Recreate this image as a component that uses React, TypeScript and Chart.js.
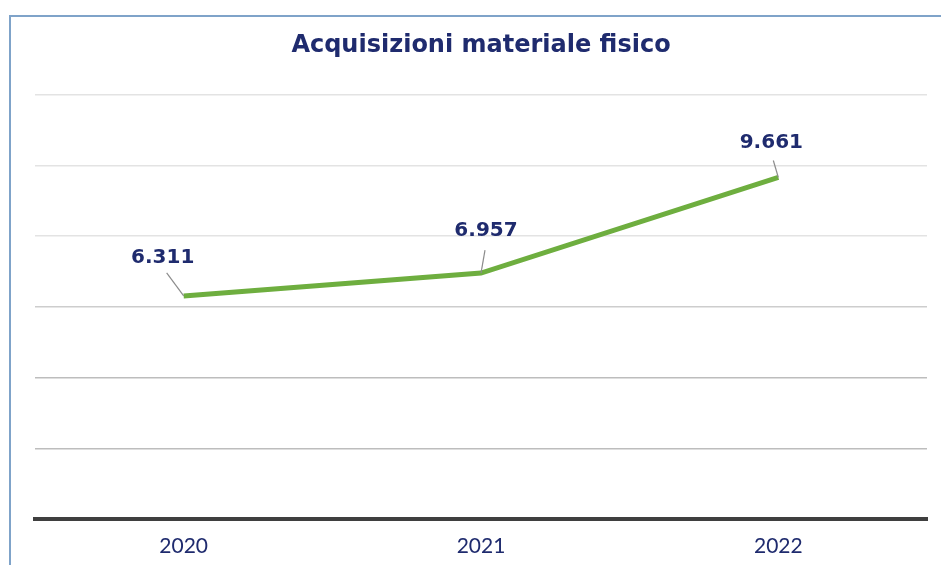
import React, { useEffect, useRef } from "react";
import { Chart, registerables } from "chart.js";

Chart.register(...registerables);

const TITLE = "Acquisizioni materiale fisico";
const categories = ["2020", "2021", "2022"];
const values = [6311, 6957, 9661];
const valueLabels = ["6.311", "6.957", "9.661"];
// label offsets relative to point: [dx, dy] for text centre
const labelOffsets = [
  [-21, -38],
  [5, -42],
  [-7, -35],
];
const leaderEnds = [
  [-17, -23],
  [4, -23],
  [-5, -17],
];

const NAVY = "#1f2b6e";

const labelPlugin = {
  id: "leaderLabels",
  afterDatasetsDraw(chart: any) {
    const ctx = chart.ctx;
    const meta = chart.getDatasetMeta(0);
    meta.data.forEach((pt: any, i: number) => {
      const x = pt.x;
      const y = pt.y;
      ctx.save();
      ctx.strokeStyle = "#8c8c8c";
      ctx.lineWidth = 1.2;
      ctx.beginPath();
      ctx.moveTo(x, y);
      ctx.lineTo(x + leaderEnds[i][0], y + leaderEnds[i][1]);
      ctx.stroke();
      ctx.fillStyle = NAVY;
      ctx.font = "bold 20px 'DejaVu Sans'";
      ctx.textAlign = "center";
      ctx.textBaseline = "middle";
      ctx.fillText(valueLabels[i], x + labelOffsets[i][0], y + labelOffsets[i][1]);
      ctx.restore();
    });
  },
};

export default function App() {
  const ref = useRef<HTMLCanvasElement>(null);
  useEffect(() => {
    if (!ref.current) return;
    const chart = new Chart(ref.current, {
      type: "line",
      data: {
        labels: categories,
        datasets: [
          {
            data: values,
            borderColor: "#6eae3f",
            borderWidth: 5,
            pointRadius: 0,
            tension: 0,
            fill: false,
          },
        ],
      },
      options: {
        animation: false,
        responsive: false,
        layout: { padding: { left: 35, right: 14, bottom: 4, top: 0 } },
        plugins: {
          legend: { display: false },
          tooltip: { enabled: false },
          title: {
            display: true,
            text: TITLE,
            color: NAVY,
            font: { family: "'DejaVu Sans'", size: 24, weight: "bold" },
            padding: { top: 31, bottom: 35 },
          },
        },
        scales: {
          x: {
            offset: true,
            grid: { display: false, drawTicks: false },
            border: { color: "#3f3f3f", width: 4 },
            ticks: {
              color: NAVY,
              font: { family: "Lato", size: 21 },
              padding: 15,
            },
            afterFit: (scale: any) => {
              scale.height = 42;
            },
          },
          y: {
            min: 0,
            max: 12000,
            ticks: { display: false, stepSize: 2000 },
            border: { display: false },
            grid: {
              drawTicks: false,
              color: (c: any) => {
                const v = c.tick ? c.tick.value : 0;
                if (v >= 8000) return "#e3e3e3";
                if (v >= 6000) return "#cdcdcd";
                return "#bdbdbd";
              },
              lineWidth: 1.5,
            },
          },
        },
      },
      plugins: [labelPlugin],
    });
    return () => chart.destroy();
  }, []);
  return (
    <div style={{ position: "fixed", left: 0, top: 0, width: 941, height: 565, background: "#fff" }}>
      <canvas ref={ref} width={941} height={565} style={{ position: "absolute", left: 0, top: 0 }} />
      <div
        style={{
          position: "absolute",
          left: 9,
          top: 15,
          width: 940,
          height: 560,
          borderLeft: "2px solid #7fa3c9",
          borderTop: "2px solid #7fa3c9",
          pointerEvents: "none",
        }}
      />
    </div>
  );
}
